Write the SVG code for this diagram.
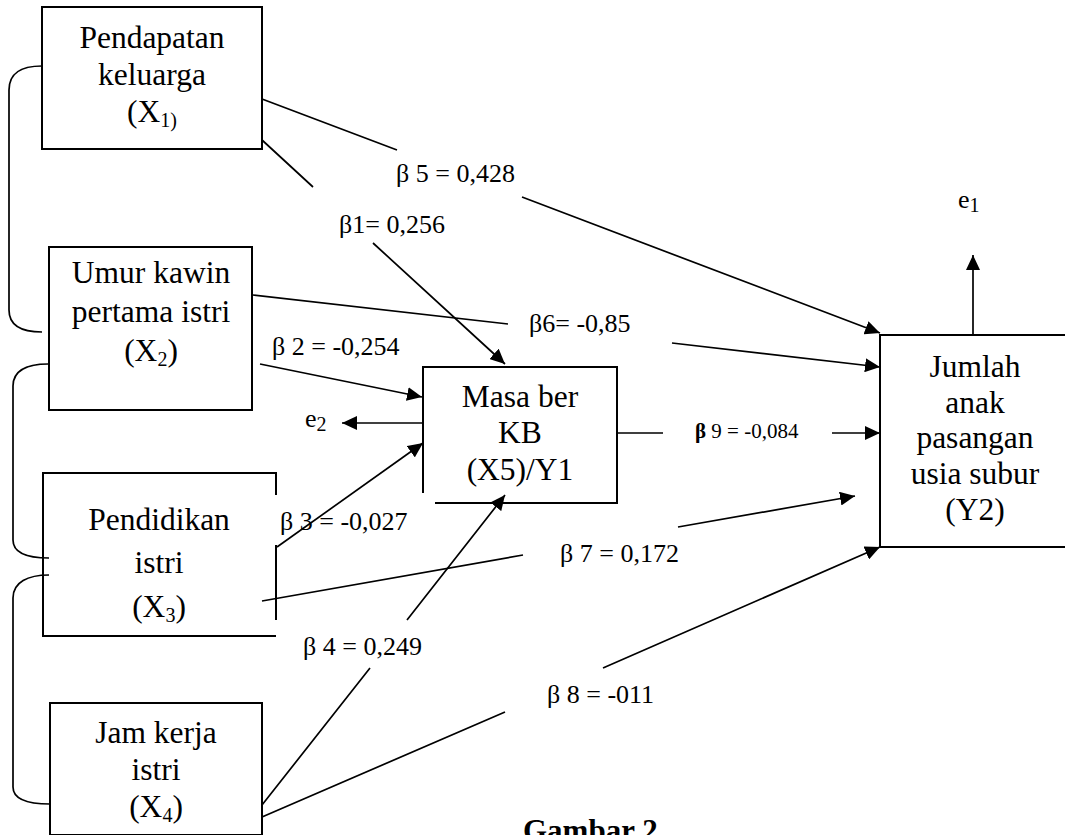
<svg xmlns="http://www.w3.org/2000/svg" width="1065" height="835" viewBox="0 0 1065 835">
<defs>
<marker id="ah" markerUnits="userSpaceOnUse" viewBox="0 0 15 14" markerWidth="15" markerHeight="14" refX="15" refY="7" orient="auto">
<path d="M0,0 L15,7 L0,14 z" fill="#000"/>
</marker>
<style>
.box{fill:none;stroke:#000;stroke-width:2}
.ln{fill:none;stroke:#000;stroke-width:1.7}
.arr{fill:none;stroke:#000;stroke-width:1.7;marker-end:url(#ah)}
.br{fill:none;stroke:#000;stroke-width:1.7}
.nt{font-family:"Liberation Serif","Times New Roman",serif;font-size:31.5px;text-anchor:middle;fill:#000}
.lb{font-family:"Liberation Serif","Times New Roman",serif;font-size:26px;fill:#000}
.sm{font-family:"Liberation Serif","Times New Roman",serif;font-size:21px;fill:#000}
.sub{font-size:20px}
</style>
</defs>
<rect width="1065" height="835" fill="#fff"/>

<g id="connectors">
<path class="br" d="M42,66 C22,66 9,72 9,90 L9,310 C9,326 22,332 42,332"/>
<path class="br" d="M48,364 C28,364 13,370 13,386 L13,540 C13,554 28,558 49,558"/>
<path class="br" d="M49,575 C28,575 13,582 13,598 L13,787 C13,800 28,804 50,804"/>
<path class="arr" d="M262,99 L397,150 M522,197 L880,333"/>
<path class="arr" d="M262,140 L313,187 M373,243 L505,364"/>
<path class="arr" d="M253,295 L508,324 M672,343 L880,367"/>
<path class="arr" d="M260,364 L422,397"/>
<path class="arr" d="M423,423 L342,423"/>
<path class="arr" d="M277,547 L423,443"/>
<path class="arr" d="M262,805 L370,668 M407,620 L505,495"/>
<path class="arr" d="M262,601 L523,555 M678,527 L855,496"/>
<path class="arr" d="M262,817 L505,712 M603,668 L880,547"/>
<path class="arr" d="M617,433 L663,433 M832,433 L880,433"/>
<path class="arr" d="M973,335 L973,255"/>
</g>

<g id="labels">
<text class="lb" x="396" y="182">β 5 = 0,428</text>
<text class="lb" x="339" y="233">β1= 0,256</text>
<text class="lb" x="529" y="332">β6= -0,85</text>
<text class="lb" x="272" y="355">β 2 = -0,254</text>
<text class="lb" x="280" y="530">β 3 = -0,027</text>
<text class="lb" x="303" y="655">β 4 = 0,249</text>
<text class="lb" x="560" y="562">β 7 = 0,172</text>
<text class="lb" x="547" y="703">β 8 = -011</text>
<text class="sm" x="695" y="438"><tspan font-weight="bold">β</tspan> 9 = -0,084</text>
<text class="lb" x="958" y="208">e<tspan class="sub" dy="4">1</tspan></text>
<text class="lb" x="305" y="427">e<tspan class="sub" dy="4">2</tspan></text>
<text x="523" y="841" font-family="'Liberation Serif','Times New Roman',serif" font-size="31px" font-weight="bold">Gambar 2</text>
</g>

<g id="node-x1">
<rect class="box" x="42" y="7" width="220" height="142"/>
<text class="nt" x="152" y="48">Pendapatan</text>
<text class="nt" x="152" y="85">keluarga</text>
<text class="nt" x="152" y="122">(X<tspan class="sub" dy="5">1)</tspan></text>
</g>

<g id="node-x2">
<rect class="box" x="49" y="247" width="203" height="163"/>
<text class="nt" x="151" y="283">Umur kawin</text>
<text class="nt" x="151" y="322">pertama istri</text>
<text class="nt" x="151" y="361">(X<tspan class="sub" dy="5">2</tspan><tspan dy="-5">)</tspan></text>
</g>

<g id="node-x3">
<path class="box" d="M276,495 L276,473 L43,473 L43,636 L276,636 M276,545 L276,620"/>
<text class="nt" x="159" y="530">Pendidikan</text>
<text class="nt" x="159" y="573">istri</text>
<text class="nt" x="159" y="617">(X<tspan class="sub" dy="5">3</tspan><tspan dy="-5">)</tspan></text>
</g>

<g id="node-x4">
<rect class="box" x="50" y="703" width="212" height="132"/>
<text class="nt" x="156" y="743">Jam kerja</text>
<text class="nt" x="156" y="780">istri</text>
<text class="nt" x="156" y="817">(X<tspan class="sub" dy="5">4</tspan><tspan dy="-5">)</tspan></text>
</g>

<g id="node-x5">
<path class="box" d="M423,493 L423,367 L617,367 L617,503 L435,503"/>
<text class="nt" x="520" y="407">Masa ber</text>
<text class="nt" x="520" y="443">KB</text>
<text class="nt" x="520" y="480">(X5)/Y1</text>
</g>

<g id="node-y2">
<path class="box" d="M1067,335 L880,335 L880,547 L1067,547"/>
<text class="nt" x="975" y="377">Jumlah</text>
<text class="nt" x="975" y="413">anak</text>
<text class="nt" x="975" y="448">pasangan</text>
<text class="nt" x="975" y="484">usia subur</text>
<text class="nt" x="975" y="520">(Y2)</text>
</g>
</svg>
